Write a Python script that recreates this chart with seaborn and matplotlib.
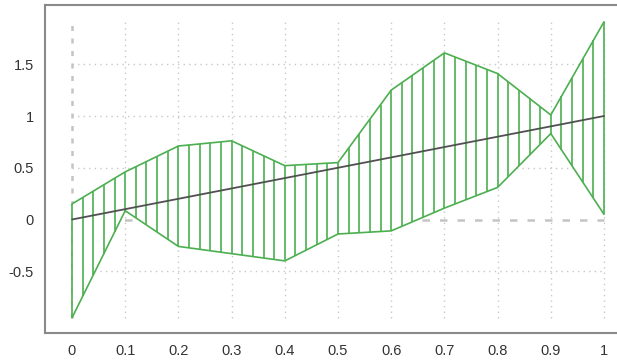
import numpy as np
import pandas as pd
import seaborn as sns
import matplotlib
matplotlib.use("Agg")
import matplotlib.pyplot as plt

# values
x_knots = [0.0, 0.1, 0.2, 0.3, 0.4, 0.5, 0.6, 0.7, 0.8, 0.9, 1.0]
upper = [0.15, 0.46, 0.71, 0.76, 0.52, 0.55, 1.25, 1.61, 1.41, 1.01, 1.91]
lower = [-0.95, 0.085, -0.26, -0.33, -0.40, -0.14, -0.11, 0.11, 0.31, 0.83, 0.05]
middle = [0.0, 0.1, 0.2, 0.3, 0.4, 0.5, 0.6, 0.7, 0.8, 0.9, 1.0]
x_ticks = [0, 0.1, 0.2, 0.3, 0.4, 0.5, 0.6, 0.7, 0.8, 0.9, 1]
x_labels = ["0", "0.1", "0.2", "0.3", "0.4", "0.5", "0.6", "0.7", "0.8", "0.9", "1"]
y_ticks = [-0.5, 0, 0.5, 1, 1.5]
y_labels = ["-0.5", "0", "0.5", "1", "1.5"]
hatch_step = 0.02

GREEN = "#4caf50"
W, H = 617, 362

df = pd.DataFrame({"x": x_knots, "upper": upper, "lower": lower, "middle": middle})

sns.set_style("white")
plt.rcParams["font.family"] = ["Liberation Sans", "DejaVu Sans"]

fig = plt.figure(figsize=(W / 100, H / 100), dpi=100)
ax = fig.add_axes([45 / W, (H - 333) / H, (625 - 45) / W, (333 - 5) / H])

ymin, ymax = min(lower), max(upper)

# dotted grid, only over the data range
ax.vlines(x_ticks[1:], ymin, ymax, colors="#c8c8c8", linestyles=(0, (1, 3)), lw=1, zorder=1)
ax.hlines([t for t in y_ticks if t != 0], 0, 1, colors="#c8c8c8",
          linestyles=(0, (1, 3)), lw=1, zorder=1)
# dashed axis lines through zero
ax.vlines([0], ymin, ymax, colors="#c4c4c4", linestyles=(0, (2, 3)), lw=1.8, zorder=1)
ax.hlines([0], 0, 1, colors="#c4c4c4", linestyles=(0, (3, 4)), lw=1.8, zorder=1)

# the band is filled white, then hatched with vertical lines
ax.fill_between(x_knots, lower, upper, color="white", lw=0, zorder=1.5)
hx = np.arange(0, 1 + hatch_step / 2, hatch_step)
ax.vlines(hx, np.interp(hx, x_knots, lower), np.interp(hx, x_knots, upper),
          colors=GREEN, lw=1.2, zorder=2)

sns.lineplot(data=df, x="x", y="upper", ax=ax, color=GREEN, lw=1.2, zorder=3)
sns.lineplot(data=df, x="x", y="lower", ax=ax, color=GREEN, lw=1.2, zorder=3)
sns.lineplot(data=df, x="x", y="middle", ax=ax, color="#505050", lw=1.3, zorder=4)

ax.set_xlim((45 - 72) / 532, (625 - 72) / 532)
ax.set_ylim((219.5 - 333) / 103.5, (219.5 - 5) / 103.5)

ax.set_xticks(x_ticks)
ax.set_xticklabels(x_labels)
ax.set_yticks(y_ticks)
ax.set_yticklabels(y_labels)
ax.tick_params(length=0, labelsize=10.5, labelcolor="#333333", pad=8)
ax.set_xlabel("")
ax.set_ylabel("")

for side in ["left", "bottom", "top"]:
    ax.spines[side].set_color("#8a8a8a")
    ax.spines[side].set_linewidth(1.5)
ax.spines["right"].set_visible(False)

fig.savefig("out.png", dpi=100)
